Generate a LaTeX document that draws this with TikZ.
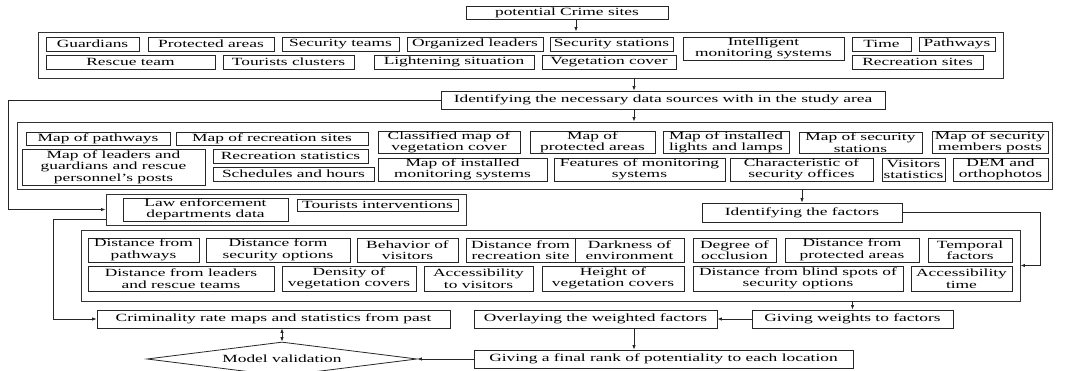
\documentclass[tikz,border=0pt]{standalone}
\usepackage{fontspec}
\setmainfont{Liberation Serif}[FakeStretch=1.58]
\usetikzlibrary{arrows.meta,shapes.geometric}
\tikzset{
  fbox/.style={draw=black!85, line width=0.8pt, inner xsep=1pt, inner ysep=0.5pt,
    align=center, font=\fontsize{11pt}{11.5pt}\selectfont},
  grp/.style={draw=black!80, line width=0.9pt, inner sep=0pt},
  arr/.style={-{Latex[length=4.5pt,width=3.5pt]}, line width=0.8pt, draw=black!85},
}
% box from (x1,y1) to (x2,y2), y counted downwards
\newcommand{\bx}[6]{\node[fbox, minimum width={#4-#2}, minimum height={#5-#3}] (#1) at ({(#2+#4)/2},{(#3+#5)/2}) {#6};}
\newcommand{\grpbox}[5]{\node[grp, minimum width={#4-#2}, minimum height={#5-#3}] (#1) at ({(#2+#4)/2},{(#3+#5)/2}) {};}

\begin{document}
\begin{tikzpicture}[x=1pt,y=-1pt]
    %%%%% START %%%%%
    \useasboundingbox (0,0) rectangle (1066,371);
    \clip (0,0) rectangle (1066,371);
    \coordinate (cx) at (634,0);
    \coordinate (cs) at (576,0);
    \coordinate (lx) at (8,0);
    \coordinate (lx2) at (53,0);
    \coordinate (rx) at (1040,0);

    % potential sites
    \bx{crime}{466}{6}{668}{19}{potential Crime sites}
    \grpbox{grp1}{38}{32}{1003}{78}
    \bx{g1}{46}{37}{139}{51}{Guardians}
    \bx{g2}{148}{37}{274}{51}{Protected areas}
    \bx{g3}{282}{37}{399}{51}{Security teams}
    \bx{g4}{407}{37}{543}{51}{Organized leaders}
    \bx{g5}{550}{37}{673}{51}{Security stations}
    \bx{g6}{683}{37}{844}{60}{Intelligent\\monitoring systems}
    \bx{g7}{852}{37}{911}{51}{Time}
    \bx{g8}{919}{37}{995}{51}{Pathways}
    \bx{g9}{46}{55}{215}{69}{Rescue team}
    \bx{g10}{223}{55}{354}{69}{Tourists clusters}
    \bx{g11}{374}{55}{534}{69}{Lightening situation}
    \bx{g12}{542}{55}{676}{69}{Vegetation cover}
    \bx{g13}{852}{55}{983}{69}{Recreation sites}

    % data sources
    \bx{ids}{441}{91}{885}{109}{Identifying the necessary data sources with in the study area}
    \grpbox{grp2}{17}{122}{1052}{189}
    \bx{m1}{26}{132}{170}{145}{Map of pathways}
    \bx{m2}{176}{132}{368}{145}{Map of recreation sites}
    \bx{m3}{378}{132}{520}{153}{Classified map of\\vegetation cover}
    \bx{m4}{530}{132}{655}{153}{Map of\\protected areas}
    \bx{m5}{663}{132}{789}{153}{Map of installed\\lights and lamps}
    \bx{m6}{799}{132}{922}{153}{Map of security\\stations}
    \bx{m7}{932}{132}{1048}{153}{Map of security\\members posts}
    \bx{m8}{22}{149}{205}{185}{Map of leaders and\\guardians and rescue\\personnel's posts}
    \bx{m9}{213}{149}{368}{163}{Recreation statistics}
    \bx{m10}{213}{167}{374}{181}{Schedules and hours}
    \bx{m11}{378}{158}{547}{181}{Map of installed\\monitoring systems}
    \bx{m12}{554}{158}{725}{181}{Features of monitoring\\systems}
    \bx{m13}{730}{158}{873}{181}{Characteristic of\\security offices}
    \bx{m14}{882}{158}{945}{181}{Visitors\\statistics}
    \bx{m15}{953}{158}{1048}{181}{DEM and\\orthophotos}

    % past data
    \grpbox{law}{106}{194}{466}{225}
    \bx{l1}{123}{198}{288}{221}{Law enforcement\\departments data}
    \bx{l2}{297}{199}{458}{211}{Tourists interventions}

    % factors
    \bx{idf}{702}{203}{902}{222}{Identifying the factors}
    \grpbox{grp3}{81}{230}{1020}{301}
    \bx{f1}{88}{238}{199}{262}{Distance from\\pathways}
    \bx{f2}{206}{238}{350}{262}{Distance form\\security options}
    \bx{f3}{357}{238}{458}{262}{Behavior of\\visitors}
    \bx{f4}{466}{238}{575}{262}{Distance from\\recreation site}
    \bx{f5}{575}{238}{684}{262}{Darkness of\\environment}
    \bx{f6}{693}{238}{776}{262}{Degree of\\occlusion}
    \bx{f7}{785}{238}{919}{262}{Distance from\\protected areas}
    \bx{f8}{928}{238}{1012}{262}{Temporal\\factors}
    \bx{f9}{88}{266}{274}{291}{Distance from leaders\\and rescue teams}
    \bx{f10}{282}{266}{416}{291}{Density of\\vegetation covers}
    \bx{f11}{424}{266}{533}{291}{Accessibility\\to visitors}
    \bx{f12}{542}{266}{684}{291}{Height of\\vegetation covers}
    \bx{f13}{693}{266}{903}{291}{Distance from blind spots of\\security options}
    \bx{f14}{911}{266}{1012}{291}{Accessibility\\time}

    % results
    \bx{crim}{97}{310}{450}{328}{Criminality rate maps and statistics from past}
    \bx{ovl}{474}{310}{717}{328}{Overlaying the weighted factors}
    \bx{gw}{752}{310}{953}{328}{Giving weights to factors}
    \bx{rank}{474}{350}{853}{368}{Giving a final rank of potentiality to each location}
    \node[fbox, diamond, aspect=8, inner sep=0pt, minimum width=270, minimum height=34] (val) at (282,359) {Model validation};

    % connectors
    \draw[arr] (crime.south -| cs) -- (grp1.north -| cs);
    \draw[arr] (grp1.south -| cx) -- (ids.north -| cx);
    \draw[arr] (ids.south -| cx) -- (grp2.north -| cx);
    \draw[arr] (ids.west) -| (lx |- law.west) -- (law.west);
    \draw[arr] (idf.north |- grp2.south) -- (idf.north);
    \draw[arr] (idf.east) -| (rx |- grp3.east) -- (grp3.east);
    \draw[arr] ([yshift=-10pt]law.west) -| (lx2 |- crim.west) -- (crim.west);
    \draw[arr] (gw.north |- grp3.south) -- (gw.north);
    \draw[arr] (gw.west) -- (ovl.east);
    \draw[arr] (ovl.south -| cx) -- (rank.north -| cx);
    \draw[arr] (rank.west) -- (val.east);
    \draw[arr, {Latex[length=4.5pt,width=3.5pt]}-{Latex[length=4.5pt,width=3.5pt]}] (val.north |- crim.south) -- (val.north);
    %%%%% END %%%%%
\end{tikzpicture}
\end{document}
